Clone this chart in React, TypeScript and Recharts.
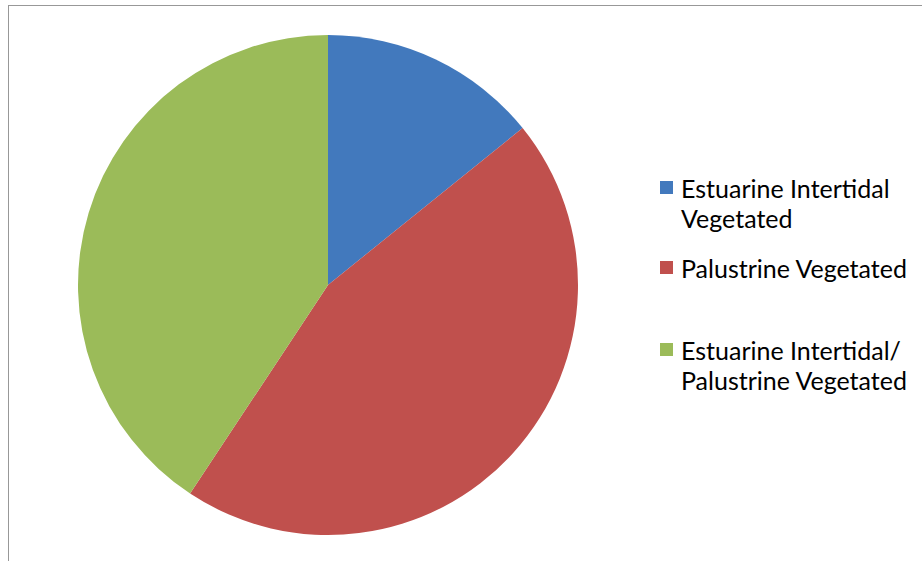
import React from "react";
import { PieChart, Pie, Cell, Legend } from "recharts";

const categories = [
  "Estuarine Intertidal Vegetated",
  "Palustrine Vegetated",
  "Estuarine Intertidal/ Palustrine Vegetated",
];
const values = [14.2, 45.1, 40.7];
const legendLines = [
  ["Estuarine Intertidal", "Vegetated"],
  ["Palustrine Vegetated"],
  ["Estuarine Intertidal/", "Palustrine Vegetated"],
];
const colors = ["#4279BD", "#C0504D", "#9BBB59"];

const data = categories.map((name, i) => ({ name, value: values[i] }));

const legendTops = [180, 260, 342];

function LegendContent(props: any) {
  const payload = props.payload || [];
  return (
    <div style={{ position: "relative", width: 260, height: 240 }}>
      {payload.map((p: any, i: number) => {
        const idx = categories.indexOf(p.value);
        const k = idx >= 0 ? idx : i;
        return (
          <div
            key={k}
            style={{
              position: "absolute",
              left: 0,
              top: legendTops[k] - 180,
              display: "flex",
              alignItems: "flex-start",
            }}
          >
            <div
              style={{
                width: 13,
                height: 13,
                background: colors[k],
                marginTop: 1,
                marginRight: 8,
                flexShrink: 0,
              }}
            />
            <div
              style={{
                fontFamily: "Lato, 'Open Sans', sans-serif",
                fontSize: 25,
                lineHeight: "30px",
                color: "#000",
                marginTop: -7,
                whiteSpace: "nowrap",
              }}
            >
              {legendLines[k].map((l, j) => (
                <div key={j}>{l}</div>
              ))}
            </div>
          </div>
        );
      })}
    </div>
  );
}

export default function App() {
  return (
    <div
      style={{
        position: "absolute",
        left: 0,
        top: 0,
        width: 922,
        height: 561,
        overflow: "hidden",
        background: "#fff",
      }}
    >
      <div
        style={{
          position: "absolute",
          left: 8,
          top: 5,
          width: 1000,
          height: 1000,
          borderLeft: "1.5px solid #989898",
          borderTop: "1.5px solid #989898",
        }}
      />
      <div style={{ position: "absolute", left: 0, top: 0 }}>
        <PieChart width={922} height={561} margin={{ top: 0, right: 0, bottom: 0, left: 0 }}>
          <Pie
            data={data}
            dataKey="value"
            nameKey="name"
            cx={328}
            cy={285}
            outerRadius={250}
            startAngle={90}
            endAngle={-270}
            stroke="none"
            isAnimationActive={false}
          >
            {data.map((d, i) => (
              <Cell key={d.name} fill={colors[i]} />
            ))}
          </Pie>
          <Legend
            content={<LegendContent />}
            wrapperStyle={{ position: "absolute", left: 660, top: 180, width: 260 }}
          />
        </PieChart>
      </div>
    </div>
  );
}
